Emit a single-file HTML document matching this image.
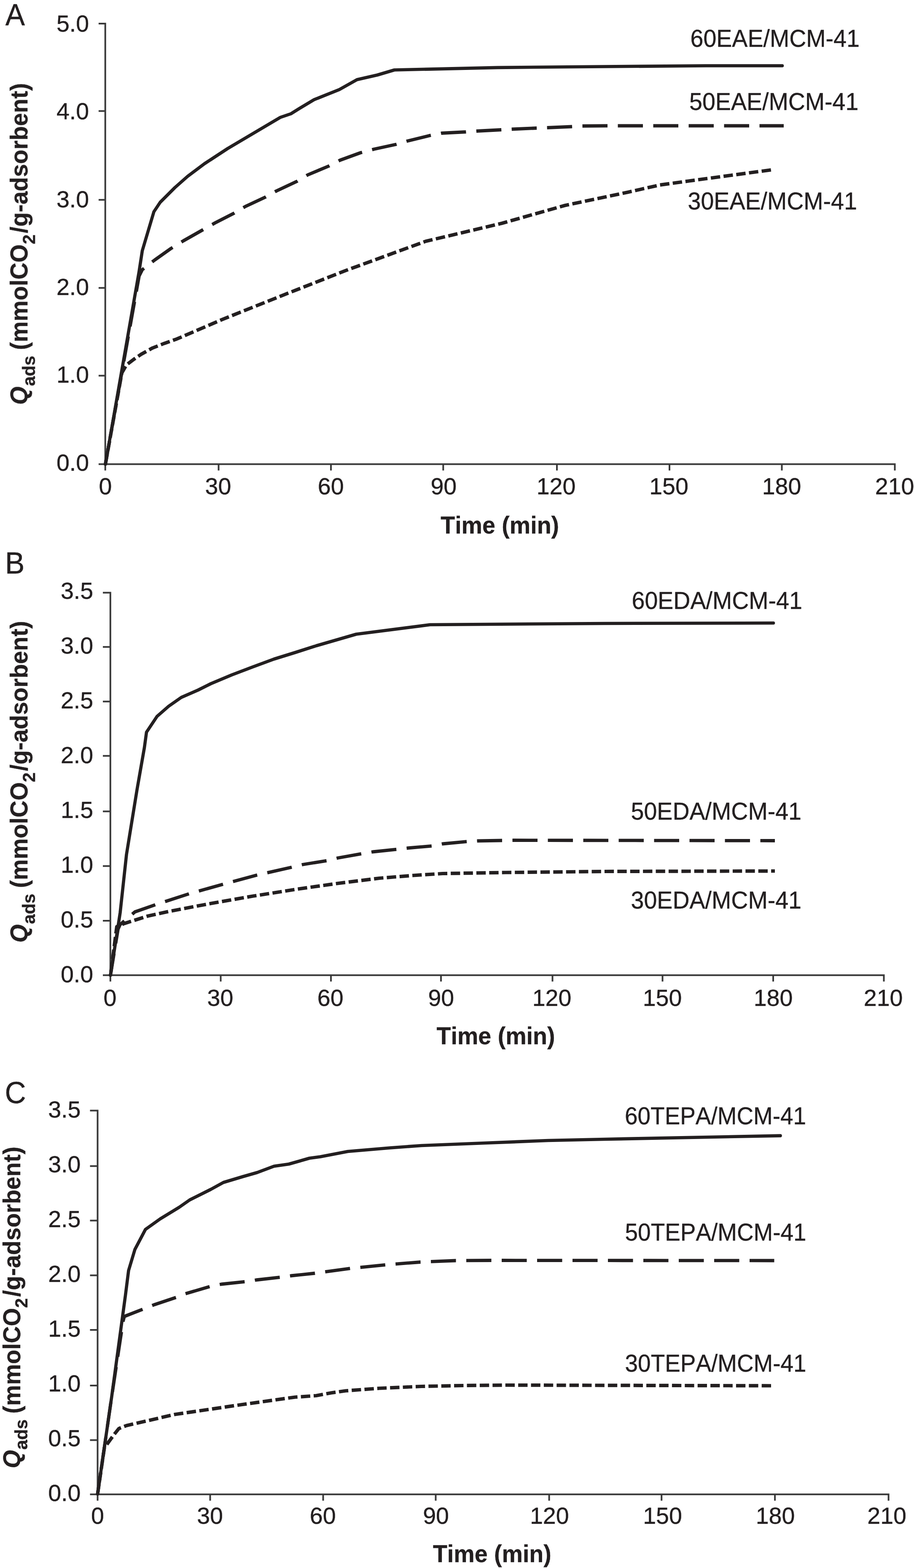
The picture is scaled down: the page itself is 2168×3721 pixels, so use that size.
<!DOCTYPE html>
<html lang="en">
<head>
<meta charset="utf-8">
<title>CO2 adsorption kinetics</title>
<style>
html,body{margin:0;padding:0;background:#fff;}
body{width:2168px;height:3721px;overflow:hidden;}
svg{display:block;font-family:"Liberation Sans",sans-serif;fill:#231f20;font-kerning:none;}
</style>
</head>
<body>
<svg width="2168" height="3721" viewBox="0 0 2168 3721">
<defs><filter id="soft" x="0" y="0" width="100%" height="100%" filterUnits="userSpaceOnUse" color-interpolation-filters="sRGB"><feGaussianBlur stdDeviation="0.55"/></filter></defs>
<rect width="2168" height="3721" fill="#fff"/>
<g filter="url(#soft)">
<g id="panelA">
<path d="M249.7 54.1 V1116.6 M233.9 1101.6 H2124.5 M233.9 56.1 H249.7 M233.9 263.6 H249.7 M233.9 474.2 H249.7 M233.9 683.2 H249.7 M233.9 891.4 H249.7 M518.5 1101.6 V1116.6 M785.0 1101.6 V1116.6 M1051.3 1101.6 V1116.6 M1321.0 1101.6 V1116.6 M1588.0 1101.6 V1116.6 M1854.5 1101.6 V1116.6 M2122.5 1101.6 V1116.6" stroke="#393939" stroke-width="4.0" fill="none"/>
<text transform="translate(133.89 75.00) scale(1.0000 1.0120)" font-size="55.56" stroke="#231f20" stroke-width="0.45">5.0</text>
<text transform="translate(133.89 283.30) scale(1.0000 1.0120)" font-size="55.56" stroke="#231f20" stroke-width="0.45">4.0</text>
<text transform="translate(133.89 491.60) scale(1.0000 1.0120)" font-size="55.56" stroke="#231f20" stroke-width="0.45">3.0</text>
<text transform="translate(133.89 699.90) scale(1.0000 1.0120)" font-size="55.56" stroke="#231f20" stroke-width="0.45">2.0</text>
<text transform="translate(133.89 908.20) scale(1.0000 1.0120)" font-size="55.56" stroke="#231f20" stroke-width="0.45">1.0</text>
<text transform="translate(133.89 1116.50) scale(1.0000 1.0120)" font-size="55.56" stroke="#231f20" stroke-width="0.45">0.0</text>
<text transform="translate(234.58 1173.20) scale(1.0000 1.0120)" font-size="55.56" stroke="#231f20" stroke-width="0.45">0</text>
<text transform="translate(486.53 1173.20) scale(1.0000 1.0120)" font-size="55.56" stroke="#231f20" stroke-width="0.45">30</text>
<text transform="translate(753.75 1173.20) scale(1.0000 1.0120)" font-size="55.56" stroke="#231f20" stroke-width="0.45">60</text>
<text transform="translate(1021.39 1173.20) scale(1.0000 1.0120)" font-size="55.56" stroke="#231f20" stroke-width="0.45">90</text>
<text transform="translate(1272.64 1173.20) scale(1.0000 1.0120)" font-size="55.56" stroke="#231f20" stroke-width="0.45">120</text>
<text transform="translate(1540.14 1173.20) scale(1.0000 1.0120)" font-size="55.56" stroke="#231f20" stroke-width="0.45">150</text>
<text transform="translate(1807.64 1173.20) scale(1.0000 1.0120)" font-size="55.56" stroke="#231f20" stroke-width="0.45">180</text>
<text transform="translate(2075.83 1173.20) scale(1.0000 1.0120)" font-size="55.56" stroke="#231f20" stroke-width="0.45">210</text>
<text transform="translate(12.65 60.00) scale(1.0000 1.0400)" font-size="69.44" stroke="#231f20" stroke-width="0.45">A</text>
<text transform="translate(1045.24 1266.40) scale(1.0000 1.0200)" font-size="55.56" font-weight="bold" stroke="#231f20" stroke-width="0.4">Time (min)</text>
<text transform="translate(65.10 0) rotate(-90) scale(1.004 1.02)" font-size="55.56" font-weight="bold" stroke="#231f20" stroke-width="0.4"><tspan x="-956.76" y="0.00" font-style="italic">Q</tspan><tspan x="-912.57" y="17.35" font-size="41.67">ads </tspan><tspan x="-827.43" y="0.00">(mmolCO</tspan><tspan x="-577.35" y="17.55" font-size="41.67">2</tspan><tspan x="-551.10" y="0.00">/g-adsorbent)</tspan></text>
<path d="M250.0 1101.6 L289.0 885.0 L300.0 866.0 L317.0 853.0 L335.0 840.7 L362.0 825.7 L390.0 814.8 L419.0 804.6 L530.0 757.0 L680.0 697.0 L820.0 642.0 L1010.0 572.5 L1190.0 530.0 L1340.0 487.5 L1490.0 456.0 L1565.0 439.0 L1634.0 429.5 L1734.0 416.0 L1830.5 403.0" fill="none" stroke="#231f20" stroke-width="8.2" stroke-linecap="butt" stroke-linejoin="round" stroke-dasharray="22.3 8.1" stroke-dashoffset="27.55"/>
<path d="M250.0 1101.6 L330.0 655.0 L337.5 640.0 L367.0 617.0 L405.0 590.0 L435.0 571.5 L480.0 546.0 L510.0 529.0 L555.0 506.0 L582.0 490.0 L630.0 467.5 L655.0 453.5 L705.0 430.0 L730.0 415.0 L780.0 394.0 L807.0 380.0 L855.0 362.5 L887.0 354.0 L940.0 342.5 L965.0 335.0 L1020.0 321.5 L1047.5 316.0 L1105.0 313.0 L1131.5 311.0 L1188.5 308.0 L1215.0 306.5 L1272.5 304.0 L1298.5 303.0 L1356.0 300.5 L1381.5 299.0 L1440.0 298.5 L1859.0 298.5" fill="none" stroke="#231f20" stroke-width="7.8" stroke-linecap="butt" stroke-linejoin="round" stroke-dasharray="59.5 24.5" stroke-dashoffset="3.75"/>
<path d="M250.0 1101.6 L330.0 644.0 L337.5 595.0 L365.0 502.5 L380.0 480.0 L415.0 445.0 L445.0 418.5 L485.0 388.5 L540.0 352.5 L605.0 314.0 L665.0 278.5 L690.0 270.0 L710.0 257.5 L745.0 236.5 L805.0 212.5 L846.8 189.0 L895.0 178.0 L935.5 166.0 L1180.0 160.4 L1290.0 159.2 L1674.0 156.0 L1855.5 156.0" fill="none" stroke="#231f20" stroke-width="7.6" stroke-linecap="round" stroke-linejoin="round"/>
<text transform="translate(1637.52 110.80) scale(1.0000 1.0400)" font-size="55.56" stroke="#231f20" stroke-width="0.45">60EAE/MCM-41</text>
<text transform="translate(1635.08 261.00) scale(1.0000 1.0400)" font-size="55.56" stroke="#231f20" stroke-width="0.45">50EAE/MCM-41</text>
<text transform="translate(1631.58 497.00) scale(1.0000 1.0400)" font-size="55.56" stroke="#231f20" stroke-width="0.45">30EAE/MCM-41</text>
</g>
<g id="panelB">
<path d="M261.8 1404.4 V2329.3 M244.0 2314.3 H2098.5 M244.0 1406.4 H261.8 M244.0 1535.3 H261.8 M244.0 1664.7 H261.8 M244.0 1793.7 H261.8 M244.0 1925.4 H261.8 M244.0 2055.2 H261.8 M244.0 2185.0 H261.8 M523.5 2314.3 V2329.3 M785.0 2314.3 V2329.3 M1046.0 2314.3 V2329.3 M1310.5 2314.3 V2329.3 M1571.5 2314.3 V2329.3 M1834.0 2314.3 V2329.3 M2096.5 2314.3 V2329.3" stroke="#393939" stroke-width="4.0" fill="none"/>
<text transform="translate(143.89 1421.00) scale(1.0000 1.0120)" font-size="55.56" stroke="#231f20" stroke-width="0.45">3.5</text>
<text transform="translate(143.89 1551.06) scale(1.0000 1.0120)" font-size="55.56" stroke="#231f20" stroke-width="0.45">3.0</text>
<text transform="translate(143.89 1681.11) scale(1.0000 1.0120)" font-size="55.56" stroke="#231f20" stroke-width="0.45">2.5</text>
<text transform="translate(143.89 1811.17) scale(1.0000 1.0120)" font-size="55.56" stroke="#231f20" stroke-width="0.45">2.0</text>
<text transform="translate(143.89 1941.23) scale(1.0000 1.0120)" font-size="55.56" stroke="#231f20" stroke-width="0.45">1.5</text>
<text transform="translate(143.89 2071.29) scale(1.0000 1.0120)" font-size="55.56" stroke="#231f20" stroke-width="0.45">1.0</text>
<text transform="translate(143.89 2201.34) scale(1.0000 1.0120)" font-size="55.56" stroke="#231f20" stroke-width="0.45">0.5</text>
<text transform="translate(143.89 2331.40) scale(1.0000 1.0120)" font-size="55.56" stroke="#231f20" stroke-width="0.45">0.0</text>
<text transform="translate(245.58 2387.50) scale(1.0000 1.0120)" font-size="55.56" stroke="#231f20" stroke-width="0.45">0</text>
<text transform="translate(491.53 2387.50) scale(1.0000 1.0120)" font-size="55.56" stroke="#231f20" stroke-width="0.45">30</text>
<text transform="translate(752.75 2387.50) scale(1.0000 1.0120)" font-size="55.56" stroke="#231f20" stroke-width="0.45">60</text>
<text transform="translate(1015.39 2387.50) scale(1.0000 1.0120)" font-size="55.56" stroke="#231f20" stroke-width="0.45">90</text>
<text transform="translate(1262.64 2387.50) scale(1.0000 1.0120)" font-size="55.56" stroke="#231f20" stroke-width="0.45">120</text>
<text transform="translate(1524.64 2387.50) scale(1.0000 1.0120)" font-size="55.56" stroke="#231f20" stroke-width="0.45">150</text>
<text transform="translate(1787.64 2387.50) scale(1.0000 1.0120)" font-size="55.56" stroke="#231f20" stroke-width="0.45">180</text>
<text transform="translate(2048.83 2387.50) scale(1.0000 1.0120)" font-size="55.56" stroke="#231f20" stroke-width="0.45">210</text>
<text transform="translate(11.94 1361.50) scale(1.0000 1.0400)" font-size="69.44" stroke="#231f20" stroke-width="0.45">B</text>
<text transform="translate(1035.54 2478.50) scale(1.0000 1.0200)" font-size="55.56" font-weight="bold" stroke="#231f20" stroke-width="0.4">Time (min)</text>
<text transform="translate(65.10 0) rotate(-90) scale(1.004 1.02)" font-size="55.56" font-weight="bold" stroke="#231f20" stroke-width="0.4"><tspan x="-2228.18" y="0.00" font-style="italic">Q</tspan><tspan x="-2183.98" y="17.35" font-size="41.67">ads </tspan><tspan x="-2098.84" y="0.00">(mmolCO</tspan><tspan x="-1848.76" y="17.55" font-size="41.67">2</tspan><tspan x="-1822.52" y="0.00">/g-adsorbent)</tspan></text>
<path d="M262.0 2314.5 L277.0 2199.0 L295.0 2191.5 L350.0 2174.0 L400.0 2163.0 L500.0 2144.0 L600.0 2126.5 L705.0 2110.0 L800.0 2096.5 L900.0 2084.0 L980.0 2077.5 L1050.0 2073.0 L1200.0 2070.5 L1434.0 2068.0 L1838.0 2067.0" fill="none" stroke="#231f20" stroke-width="8.2" stroke-linecap="butt" stroke-linejoin="round" stroke-dasharray="22.3 8.1" stroke-dashoffset="21.64"/>
<path d="M262.0 2314.5 L280.0 2205.0 L285.0 2194.0 L320.0 2164.0 L370.0 2146.5 L450.0 2120.5 L527.0 2099.0 L610.0 2076.5 L692.0 2058.0 L719.0 2051.5 L775.0 2042.5 L801.5 2036.0 L857.5 2026.0 L884.0 2021.5 L941.0 2015.5 L967.5 2012.5 L1024.0 2007.5 L1050.0 2002.5 L1107.5 1997.0 L1134.0 1995.5 L1191.0 1994.5 L1217.5 1994.0 L1838.0 1995.0" fill="none" stroke="#231f20" stroke-width="7.8" stroke-linecap="butt" stroke-linejoin="round" stroke-dasharray="59.5 24.5" stroke-dashoffset="7.21"/>
<path d="M262.0 2314.5 L285.0 2166.0 L300.0 2028.0 L325.0 1874.0 L342.5 1774.0 L347.5 1737.5 L372.5 1700.0 L400.0 1676.0 L430.0 1655.0 L470.0 1637.5 L500.0 1622.5 L550.0 1601.5 L600.0 1582.5 L650.0 1564.0 L700.0 1548.5 L750.0 1532.5 L845.0 1505.0 L1020.0 1482.5 L1434.0 1479.5 L1834.5 1478.5" fill="none" stroke="#231f20" stroke-width="7.6" stroke-linecap="round" stroke-linejoin="round"/>
<text transform="translate(1498.52 1445.00) scale(1.0000 1.0400)" font-size="55.56" stroke="#231f20" stroke-width="0.45">60EDA/MCM-41</text>
<text transform="translate(1496.58 1944.50) scale(1.0000 1.0400)" font-size="55.56" stroke="#231f20" stroke-width="0.45">50EDA/MCM-41</text>
<text transform="translate(1496.58 2156.00) scale(1.0000 1.0400)" font-size="55.56" stroke="#231f20" stroke-width="0.45">30EDA/MCM-41</text>
</g>
<g id="panelC">
<path d="M231.5 2633.4 V3561.3 M213.5 3546.3 H2109.6 M213.5 2635.4 H231.5 M213.5 2767.3 H231.5 M213.5 2896.6 H231.5 M213.5 3026.5 H231.5 M213.5 3155.9 H231.5 M213.5 3288.1 H231.5 M213.5 3417.4 H231.5 M498.5 3546.3 V3561.3 M766.5 3546.3 V3561.3 M1033.5 3546.3 V3561.3 M1302.6 3546.3 V3561.3 M1569.2 3546.3 V3561.3 M1838.1 3546.3 V3561.3 M2107.6 3546.3 V3561.3" stroke="#393939" stroke-width="4.0" fill="none"/>
<text transform="translate(114.19 2651.90) scale(1.0000 1.0120)" font-size="55.56" stroke="#231f20" stroke-width="0.45">3.5</text>
<text transform="translate(114.19 2781.97) scale(1.0000 1.0120)" font-size="55.56" stroke="#231f20" stroke-width="0.45">3.0</text>
<text transform="translate(114.19 2912.04) scale(1.0000 1.0120)" font-size="55.56" stroke="#231f20" stroke-width="0.45">2.5</text>
<text transform="translate(114.19 3042.11) scale(1.0000 1.0120)" font-size="55.56" stroke="#231f20" stroke-width="0.45">2.0</text>
<text transform="translate(114.19 3172.19) scale(1.0000 1.0120)" font-size="55.56" stroke="#231f20" stroke-width="0.45">1.5</text>
<text transform="translate(114.19 3302.26) scale(1.0000 1.0120)" font-size="55.56" stroke="#231f20" stroke-width="0.45">1.0</text>
<text transform="translate(114.19 3432.33) scale(1.0000 1.0120)" font-size="55.56" stroke="#231f20" stroke-width="0.45">0.5</text>
<text transform="translate(114.19 3562.40) scale(1.0000 1.0120)" font-size="55.56" stroke="#231f20" stroke-width="0.45">0.0</text>
<text transform="translate(216.08 3616.00) scale(1.0000 1.0120)" font-size="55.56" stroke="#231f20" stroke-width="0.45">0</text>
<text transform="translate(467.23 3616.00) scale(1.0000 1.0120)" font-size="55.56" stroke="#231f20" stroke-width="0.45">30</text>
<text transform="translate(734.85 3616.00) scale(1.0000 1.0120)" font-size="55.56" stroke="#231f20" stroke-width="0.45">60</text>
<text transform="translate(1003.19 3616.00) scale(1.0000 1.0120)" font-size="55.56" stroke="#231f20" stroke-width="0.45">90</text>
<text transform="translate(1256.94 3616.00) scale(1.0000 1.0120)" font-size="55.56" stroke="#231f20" stroke-width="0.45">120</text>
<text transform="translate(1525.14 3616.00) scale(1.0000 1.0120)" font-size="55.56" stroke="#231f20" stroke-width="0.45">150</text>
<text transform="translate(1792.64 3616.00) scale(1.0000 1.0120)" font-size="55.56" stroke="#231f20" stroke-width="0.45">180</text>
<text transform="translate(2057.33 3616.00) scale(1.0000 1.0120)" font-size="55.56" stroke="#231f20" stroke-width="0.45">210</text>
<text transform="translate(11.53 2618.30) scale(1.0000 1.0400)" font-size="69.44" stroke="#231f20" stroke-width="0.45">C</text>
<text transform="translate(1026.94 3707.50) scale(1.0000 1.0200)" font-size="55.56" font-weight="bold" stroke="#231f20" stroke-width="0.4">Time (min)</text>
<text transform="translate(47.50 0) rotate(-90) scale(1.004 1.02)" font-size="55.56" font-weight="bold" stroke="#231f20" stroke-width="0.4"><tspan x="-3470.71" y="0.00" font-style="italic">Q</tspan><tspan x="-3426.51" y="17.35" font-size="41.67">ads </tspan><tspan x="-3341.37" y="0.00">(mmolCO</tspan><tspan x="-3091.29" y="17.55" font-size="41.67">2</tspan><tspan x="-3065.05" y="0.00">/g-adsorbent)</tspan></text>
<path d="M231.5 3545.5 L247.5 3436.0 L270.0 3405.0 L282.0 3390.0 L300.0 3383.0 L350.0 3371.5 L415.0 3356.5 L500.0 3344.0 L575.0 3333.0 L650.0 3322.5 L700.0 3315.5 L750.0 3312.0 L785.0 3305.5 L820.0 3300.5 L900.0 3294.5 L1000.0 3290.0 L1100.0 3288.0 L1200.0 3287.0 L1829.0 3288.5" fill="none" stroke="#231f20" stroke-width="8.2" stroke-linecap="butt" stroke-linejoin="round" stroke-dasharray="22.3 8.1" stroke-dashoffset="0.83"/>
<path d="M231.5 3545.5 L265.0 3314.0 L292.0 3135.0 L295.0 3124.0 L340.0 3106.5 L365.0 3096.5 L417.5 3079.0 L440.0 3070.0 L500.0 3052.5 L525.0 3047.5 L582.5 3041.5 L607.5 3037.5 L665.0 3031.0 L690.0 3027.5 L747.0 3021.5 L831.0 3010.0 L914.0 3001.5 L997.0 2995.0 L1081.0 2991.5 L1165.0 2991.0 L1836.5 2991.5" fill="none" stroke="#231f20" stroke-width="7.8" stroke-linecap="butt" stroke-linejoin="round" stroke-dasharray="59.5 24.5" stroke-dashoffset="6.78"/>
<path d="M231.5 3545.5 L265.0 3314.0 L297.5 3074.0 L305.0 3015.0 L320.0 2965.0 L345.0 2917.5 L380.0 2892.5 L425.0 2865.0 L450.0 2847.5 L500.0 2822.5 L530.0 2806.0 L575.0 2792.5 L610.0 2782.5 L650.0 2767.5 L685.0 2762.5 L734.0 2748.5 L760.0 2745.0 L825.0 2732.5 L925.0 2724.0 L1000.0 2718.5 L1150.0 2712.5 L1300.0 2706.5 L1434.0 2703.5 L1851.0 2695.1" fill="none" stroke="#231f20" stroke-width="7.6" stroke-linecap="round" stroke-linejoin="round"/>
<text transform="translate(1482.06 2668.00) scale(0.9880 1.0400)" font-size="55.56" stroke="#231f20" stroke-width="0.45">60TEPA/MCM-41</text>
<text transform="translate(1482.60 2943.50) scale(0.9880 1.0400)" font-size="55.56" stroke="#231f20" stroke-width="0.45">50TEPA/MCM-41</text>
<text transform="translate(1482.60 3255.00) scale(0.9880 1.0400)" font-size="55.56" stroke="#231f20" stroke-width="0.45">30TEPA/MCM-41</text>
</g>
</g>
</svg>
</body>
</html>
